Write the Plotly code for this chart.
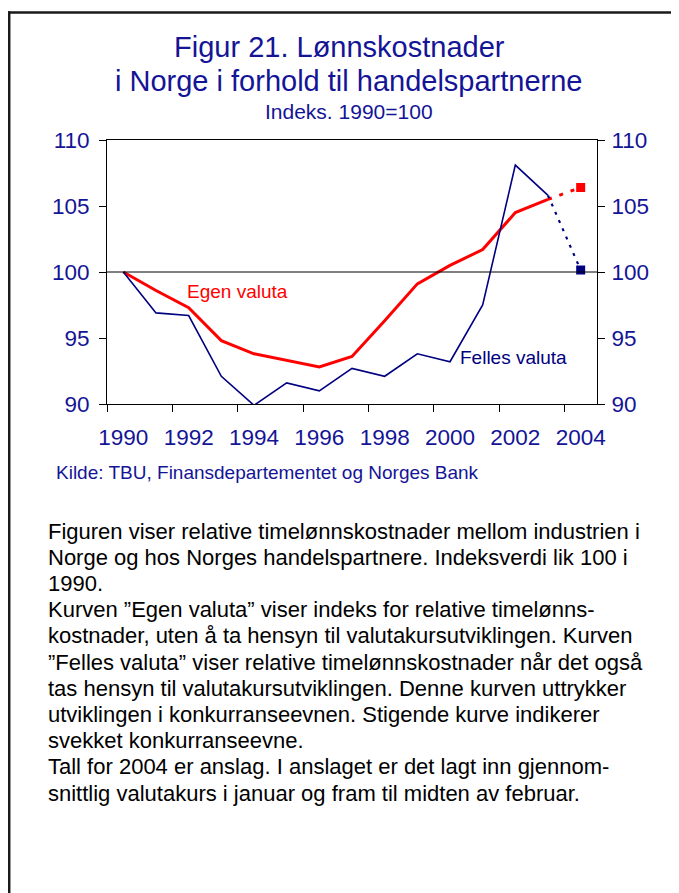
import plotly.graph_objects as go

# ---- data -------------------------------------------------------------
years = [1990, 1991, 1992, 1993, 1994, 1995, 1996, 1997, 1998, 1999, 2000, 2001, 2002, 2003]
egen_valuta = [100.0, 98.6, 97.3, 94.8, 93.8, 93.3, 92.8, 93.6, 96.3, 99.1, 100.5, 101.7, 104.5, 105.5]
felles_valuta = [100.0, 96.9, 96.7, 92.1, 89.9, 91.6, 91.0, 92.7, 92.1, 93.8, 93.2, 97.5, 108.1, 105.8]
forecast_year = 2004
egen_forecast = 106.4
felles_forecast = 100.15

x_tick_labels = [1990, 1992, 1994, 1996, 1998, 2000, 2002, 2004]
y_ticks = [90, 95, 100, 105, 110]

title_lines = ["Figur 21. Lønnskostnader", "i Norge i forhold til handelspartnerne"]
subtitle = "Indeks. 1990=100"
source = "Kilde: TBU, Finansdepartementet og Norges Bank"
body_lines = [
    "Figuren viser relative timelønnskostnader mellom industrien i",
    "Norge og hos Norges handelspartnere. Indeksverdi lik 100 i",
    "1990.",
    "Kurven \u201dEgen valuta\u201d viser indeks for relative timelønns-",
    "kostnader, uten å ta hensyn til valutakursutviklingen. Kurven",
    "\u201dFelles valuta\u201d viser relative timelønnskostnader når det også",
    "tas hensyn til valutakursutviklingen. Denne kurven uttrykker",
    "utviklingen i konkurranseevnen. Stigende kurve indikerer",
    "svekket konkurranseevne.",
    "Tall for 2004 er anslag. I anslaget er det lagt inn gjennom-",
    "snittlig valutakurs i januar og fram til midten av februar.",
]

# ---- layout constants (page pixels; page body adds an 8px offset) -----
OFF = 8
W, H = 679 - OFF, 893 - OFF
SL, SR, ST, SB = 107, 597, 140, 404          # plot area on screen
L, R, T, B = SL - OFF, SR - OFF, ST - OFF, SB - OFF
PW, PH = R - L, B - T

def px_x(x):
    return (x - OFF - L) / PW

def px_y(y):
    return (B - (y - OFF)) / PH

NAVY = "#000080"
TXT = "#141496"
RED = "#FF0000"
FONT = "Liberation Sans, Arial, sans-serif"

fig = go.Figure()

fig.add_trace(go.Scatter(x=years, y=egen_valuta, mode="lines",
                         line=dict(color=RED, width=3), showlegend=False))
fig.add_trace(go.Scatter(x=[years[-1], forecast_year], y=[egen_valuta[-1], egen_forecast],
                         mode="lines", line=dict(color=RED, width=3, dash="4px,8px"),
                         showlegend=False))
fig.add_trace(go.Scatter(x=[forecast_year], y=[egen_forecast], mode="markers",
                         marker=dict(symbol="square", size=9, color=RED), showlegend=False))

fig.add_trace(go.Scatter(x=years, y=felles_valuta, mode="lines",
                         line=dict(color=NAVY, width=1.6), showlegend=False))
fig.add_trace(go.Scatter(x=[years[-1], forecast_year], y=[felles_valuta[-1], felles_forecast],
                         mode="lines", line=dict(color=NAVY, width=2.2, dash="3px,6px"),
                         showlegend=False))
fig.add_trace(go.Scatter(x=[forecast_year], y=[felles_forecast], mode="markers",
                         marker=dict(symbol="square", size=9, color=NAVY), showlegend=False,
                         yaxis="y2"))

axis_common = dict(showgrid=False, zeroline=False, showline=True, linecolor="black",
                   linewidth=1)
TICKSIZE = 22.5

fig.update_layout(
    width=W, height=H,
    margin=dict(l=L, r=W - R, t=T, b=H - B, pad=0),
    paper_bgcolor="white", plot_bgcolor="white",
    font=dict(family=FONT, color=TXT),
    xaxis=dict(range=[1989.5, 2004.5], tickvals=x_tick_labels, ticks="",
               tickfont=dict(size=TICKSIZE, color=TXT), ticklabelstandoff=13,
               minor=dict(tickvals=[1989.5 + 2 * i for i in range(8)], ticks="outside",
                          ticklen=7, tickcolor="black", tickwidth=1),
               mirror=True, **axis_common),
    yaxis=dict(range=[90, 110], tickvals=y_ticks, ticks="outside", ticklen=7,
               tickcolor="black", tickfont=dict(size=TICKSIZE, color=TXT), ticklabelstandoff=5,
               **axis_common),
    yaxis2=dict(range=[90, 110], tickvals=y_ticks, ticks="outside", ticklen=7,
                tickcolor="black", tickfont=dict(size=TICKSIZE, color=TXT), ticklabelstandoff=2,
                overlaying="y", side="right", **axis_common),
)

shapes = []
# reference line at 100
shapes.append(dict(type="line", xref="x domain", yref="y", x0=0, x1=1, y0=100, y1=100,
                   line=dict(color="black", width=1)))
# outer frame: top and left edges only (it runs off the page on the right and bottom)
frame = dict(color="#1a1a1a", width=2.5)
shapes.append(dict(type="line", xref="paper", yref="paper",
                   x0=px_x(8), x1=px_x(760), y0=px_y(12.5), y1=px_y(12.5), line=frame))
shapes.append(dict(type="line", xref="paper", yref="paper",
                   x0=px_x(9.2), x1=px_x(9.2), y0=px_y(11.3), y1=px_y(960), line=frame))
fig.update_layout(shapes=shapes)

ann = []
ann.append(dict(text=title_lines[0], x=px_x(339), y=px_y(47), xref="paper", yref="paper",
                showarrow=False, font=dict(size=29, color=TXT), xanchor="center", yanchor="middle"))
ann.append(dict(text=title_lines[1], x=px_x(349), y=px_y(81), xref="paper", yref="paper",
                showarrow=False, font=dict(size=29, color=TXT), xanchor="center", yanchor="middle"))
ann.append(dict(text=subtitle, x=px_x(349), y=px_y(111), xref="paper", yref="paper",
                showarrow=False, font=dict(size=21, color=TXT), xanchor="center", yanchor="middle"))
ann.append(dict(text=source, x=px_x(54), y=px_y(473), xref="paper", yref="paper",
                showarrow=False, font=dict(size=19, color=TXT), xanchor="left", yanchor="middle"))
ann.append(dict(text="Egen valuta", x=1993.5, y=98.5, xref="x", yref="y", showarrow=False,
                font=dict(size=19, color=RED), xanchor="center", yanchor="middle"))
ann.append(dict(text="Felles valuta", x=2001.95, y=93.55, xref="x", yref="y", showarrow=False,
                font=dict(size=19, color=NAVY), xanchor="center", yanchor="middle"))
for i, line in enumerate(body_lines):
    ann.append(dict(text=line, x=px_x(46), y=px_y(531 + i * 26.2), xref="paper", yref="paper",
                    showarrow=False, font=dict(size=22, color="black", family=FONT),
                    xanchor="left", yanchor="middle"))
fig.update_layout(annotations=ann)

fig.write_html("out.html", post_script="document.body.style.overflow='hidden';")
